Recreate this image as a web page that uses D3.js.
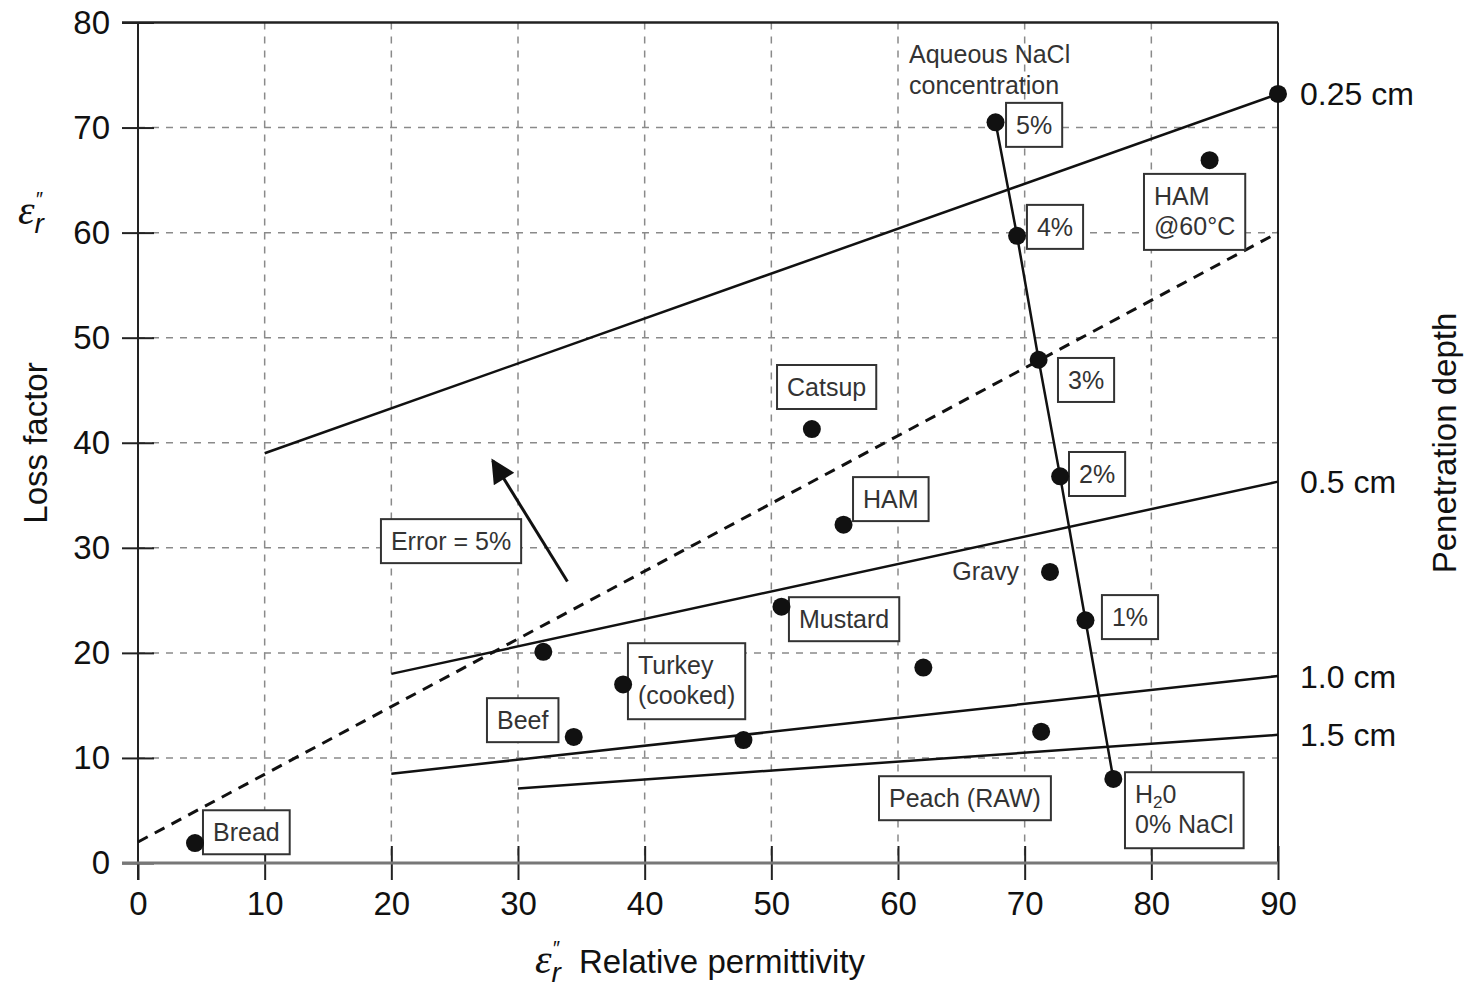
<!DOCTYPE html>
<html>
<head>
<meta charset="utf-8">
<script src="https://cdn.jsdelivr.net/npm/d3@7"></script>
<style>
  body { margin: 0; background: #fff; }
  svg { font-family: "Liberation Sans", Arial, Helvetica, sans-serif; }
</style>
</head>
<body>
<div id="chart"></div>
<script>
// Food samples (relative permittivity, loss factor)
var foodNames = ["Bread", "Beef", "Turkey", "Unlabelled A", "Unlabelled B", "Mustard", "Catsup", "HAM", "Unlabelled C", "Gravy", "Peach", "HAM 60C"];
var foodX = [4.5, 34.4, 38.3, 32.0, 47.8, 50.8, 53.2, 55.7, 62.0, 72.0, 71.3, 84.6];
var foodY = [1.9, 12.0, 17.0, 20.1, 11.7, 24.4, 41.3, 32.2, 18.6, 27.7, 12.5, 66.9];

// Aqueous NaCl series
var naclLabels = ["5%", "4%", "3%", "2%", "1%", "0%"];
var naclX = [67.7, 69.4, 71.1, 72.8, 74.8, 77.0];
var naclY = [70.5, 59.7, 47.9, 36.8, 23.1, 8.0];

// Penetration depth lines (start and end in data units)
var depthLabels = ["0.25 cm", "0.5 cm", "1.0 cm", "1.5 cm"];
var depthX0 = [10, 20, 20, 30];
var depthY0 = [39.0, 18.0, 8.5, 7.1];
var depthX1 = [90, 90, 90, 90];
var depthY1 = [73.2, 36.3, 17.8, 12.2];

// Error = 5% dashed line and arrow
var errorLineX = [0, 90];
var errorLineY = [2.0, 60.0];
var arrowX = [33.9, 28.0];
var arrowY = [26.8, 38.3];

var xTicks = [0, 10, 20, 30, 40, 50, 60, 70, 80, 90];
var yTicks = [0, 10, 20, 30, 40, 50, 60, 70, 80];

// Label boxes: text lines and top-left corner in data units
var boxLabels = [
  { lines: ["5%"], x: 68.53, y: 72.35 },
  { lines: ["4%"], x: 70.18, y: 62.64 },
  { lines: ["3%"], x: 72.63, y: 48.07 },
  { lines: ["2%"], x: 73.50, y: 39.12 },
  { lines: ["1%"], x: 76.10, y: 25.50 },
  { lines: ["HAM", "@60°C"], x: 79.42, y: 65.59 },
  { lines: ["Catsup"], x: 50.45, y: 47.40 },
  { lines: ["HAM"], x: 56.45, y: 36.73 },
  { lines: ["Mustard"], x: 51.39, y: 25.30 },
  { lines: ["Error = 5%"], x: 19.18, y: 32.73 },
  { lines: ["Turkey", "(cooked)"], x: 38.68, y: 20.92 },
  { lines: ["Beef"], x: 27.55, y: 15.69 },
  { lines: ["Bread"], x: 5.13, y: 5.02 },
  { lines: ["Peach (RAW)"], x: 58.50, y: 8.26 },
  { lines: ["H2O", "0% NaCl"], x: 77.92, y: 8.64 }
];

var W = 1467, H = 994;
var svg = d3.select("#chart").append("svg")
  .attr("width", W)
  .attr("height", H);

var x = d3.scaleLinear().domain([0, 90]).range([138, 1278]);
var y = d3.scaleLinear().domain([0, 80]).range([863, 22.5]);

// grid
svg.append("g").selectAll("line.gx")
  .data(xTicks.slice(1, -1))
  .enter().append("line")
  .attr("x1", d => x(d)).attr("x2", d => x(d))
  .attr("y1", y(80)).attr("y2", y(0))
  .attr("stroke", "#8a8a8a").attr("stroke-width", 1.5)
  .attr("stroke-dasharray", "7,7");
svg.append("g").selectAll("line.gy")
  .data(yTicks.slice(1, -1))
  .enter().append("line")
  .attr("x1", x(0)).attr("x2", x(90))
  .attr("y1", d => y(d)).attr("y2", d => y(d))
  .attr("stroke", "#8a8a8a").attr("stroke-width", 1.5)
  .attr("stroke-dasharray", "7,7");

// axes
svg.append("g")
  .attr("transform", "translate(" + x(0) + ",0)")
  .call(d3.axisLeft(y).tickValues(yTicks).tickSize(16).tickPadding(12));
svg.append("g")
  .attr("transform", "translate(" + x(0) + ",0)")
  .call(d3.axisRight(y).tickValues(yTicks).tickSize(16).tickFormat(""));
svg.append("g")
  .attr("transform", "translate(0," + y(0) + ")")
  .call(d3.axisBottom(x).tickValues(xTicks).tickSize(17).tickPadding(12));
svg.append("g")
  .attr("transform", "translate(0," + y(0) + ")")
  .call(d3.axisTop(x).tickValues(xTicks.slice(1)).tickSize(17).tickFormat(""));

svg.selectAll(".domain").remove();
svg.selectAll(".tick line").attr("stroke", "#222").attr("stroke-width", 2);
svg.selectAll(".tick text")
  .attr("font-size", 33)
  .attr("fill", "#111")
  .attr("font-family", "Liberation Sans, Arial, sans-serif");

// frame
svg.append("line").attr("x1", x(0)).attr("x2", x(0)).attr("y1", y(80)).attr("y2", y(0) + 17)
  .attr("stroke", "#222").attr("stroke-width", 2);
svg.append("line").attr("x1", x(0) - 16).attr("x2", x(90)).attr("y1", y(80)).attr("y2", y(80))
  .attr("stroke", "#222").attr("stroke-width", 2.5);
svg.append("line").attr("x1", x(90)).attr("x2", x(90)).attr("y1", y(80)).attr("y2", y(0))
  .attr("stroke", "#222").attr("stroke-width", 2);
svg.append("line").attr("x1", x(0) - 16).attr("x2", x(90)).attr("y1", y(0)).attr("y2", y(0))
  .attr("stroke", "#777").attr("stroke-width", 3);

// penetration depth lines
depthLabels.forEach(function (lab, i) {
  svg.append("line")
    .attr("x1", x(depthX0[i])).attr("y1", y(depthY0[i]))
    .attr("x2", x(depthX1[i])).attr("y2", y(depthY1[i]))
    .attr("stroke", "#111").attr("stroke-width", 2.5);
  svg.append("text")
    .attr("x", x(90) + 22)
    .attr("y", y(depthY1[i]))
    .attr("dy", "0.36em")
    .attr("font-size", 32)
    .attr("fill", "#111")
    .text(lab);
});

// error line (dashed)
svg.append("line")
  .attr("x1", x(errorLineX[0])).attr("y1", y(errorLineY[0]))
  .attr("x2", x(errorLineX[1])).attr("y2", y(errorLineY[1]))
  .attr("stroke", "#111").attr("stroke-width", 3)
  .attr("stroke-dasharray", "11,8");

// arrow
svg.append("defs").append("marker")
  .attr("id", "head")
  .attr("viewBox", "0 0 10 10")
  .attr("refX", 9).attr("refY", 5)
  .attr("markerUnits", "userSpaceOnUse")
  .attr("markerWidth", 28).attr("markerHeight", 24)
  .attr("orient", "auto")
  .append("path").attr("d", "M0,0 L10,5 L0,10 Z").attr("fill", "#111");
svg.append("line")
  .attr("x1", x(arrowX[0])).attr("y1", y(arrowY[0]))
  .attr("x2", x(arrowX[1])).attr("y2", y(arrowY[1]))
  .attr("stroke", "#111").attr("stroke-width", 3)
  .attr("marker-end", "url(#head)");

// NaCl line
var naclLine = d3.line().x(d => x(d[0])).y(d => y(d[1]));
svg.append("path")
  .datum(naclX.map((v, i) => [v, naclY[i]]))
  .attr("d", naclLine)
  .attr("fill", "none").attr("stroke", "#111").attr("stroke-width", 2.5);

// label boxes
boxLabels.forEach(function (b) {
  var g = svg.append("g").attr("transform", "translate(" + x(b.x) + "," + y(b.y) + ")");
  var rect = g.append("rect");
  var t = g.append("text").attr("font-size", 25).attr("fill", "#333");
  b.lines.forEach(function (ln, i) {
    var ts = t.append("tspan").attr("x", 10).attr("y", 31 + i * 30);
    if (ln === "H2O") {
      ts.text("H");
      t.append("tspan").attr("font-size", 17).attr("dy", 5).text("2");
      t.append("tspan").attr("dy", -5).text("0");
    } else {
      ts.text(ln);
    }
  });
  var bb = t.node().getBBox();
  rect.attr("x", 0).attr("y", 0)
    .attr("width", bb.width + 20)
    .attr("height", 14 + b.lines.length * 30 + (b.lines.length > 1 ? 2 : 0))
    .attr("fill", "#fff").attr("stroke", "#333").attr("stroke-width", 2);
});

// plain text annotations
svg.append("text").attr("x", 909).attr("y", 63).attr("font-size", 25).attr("fill", "#333")
  .text("Aqueous NaCl");
svg.append("text").attr("x", 909).attr("y", 94).attr("font-size", 25).attr("fill", "#333")
  .text("concentration");
svg.append("text").attr("x", 1019).attr("y", 580).attr("font-size", 25).attr("fill", "#333")
  .attr("text-anchor", "end").text("Gravy");

// points
svg.append("g").selectAll("circle.food")
  .data(foodX)
  .enter().append("circle")
  .attr("cx", d => x(d))
  .attr("cy", (d, i) => y(foodY[i]))
  .attr("r", 9).attr("fill", "#111");
svg.append("g").selectAll("circle.nacl")
  .data(naclX)
  .enter().append("circle")
  .attr("cx", d => x(d))
  .attr("cy", (d, i) => y(naclY[i]))
  .attr("r", 9).attr("fill", "#111");
svg.append("circle").attr("cx", x(depthX1[0])).attr("cy", y(depthY1[0])).attr("r", 9).attr("fill", "#111");

// axis titles: epsilon symbol as one text with tspans
function epsilon(px, py, rest) {
  var t = svg.append("text").attr("x", px).attr("y", py).attr("fill", "#111");
  t.append("tspan")
    .attr("font-family", "Liberation Serif, Times New Roman, serif")
    .attr("font-style", "italic").attr("font-size", 42).text("ε");
  t.append("tspan")
    .attr("font-style", "italic").attr("font-size", 28).attr("dy", 9).text("r");
  t.append("tspan")
    .attr("font-style", "italic").attr("font-size", 20).attr("dx", -9).attr("dy", -27).text("″");
  if (rest) {
    t.append("tspan").attr("font-size", 33).attr("dx", 20).attr("dy", 18).text(rest);
  }
}
epsilon(18, 224, null);
epsilon(535, 973, "Relative permittivity");

svg.append("text")
  .attr("transform", "translate(47,443) rotate(-90)")
  .attr("text-anchor", "middle")
  .attr("font-size", 33).attr("fill", "#111")
  .text("Loss factor");

svg.append("text")
  .attr("transform", "translate(1456,443) rotate(-90)")
  .attr("text-anchor", "middle")
  .attr("font-size", 33).attr("fill", "#111")
  .text("Penetration depth");
</script>
</body>
</html>
